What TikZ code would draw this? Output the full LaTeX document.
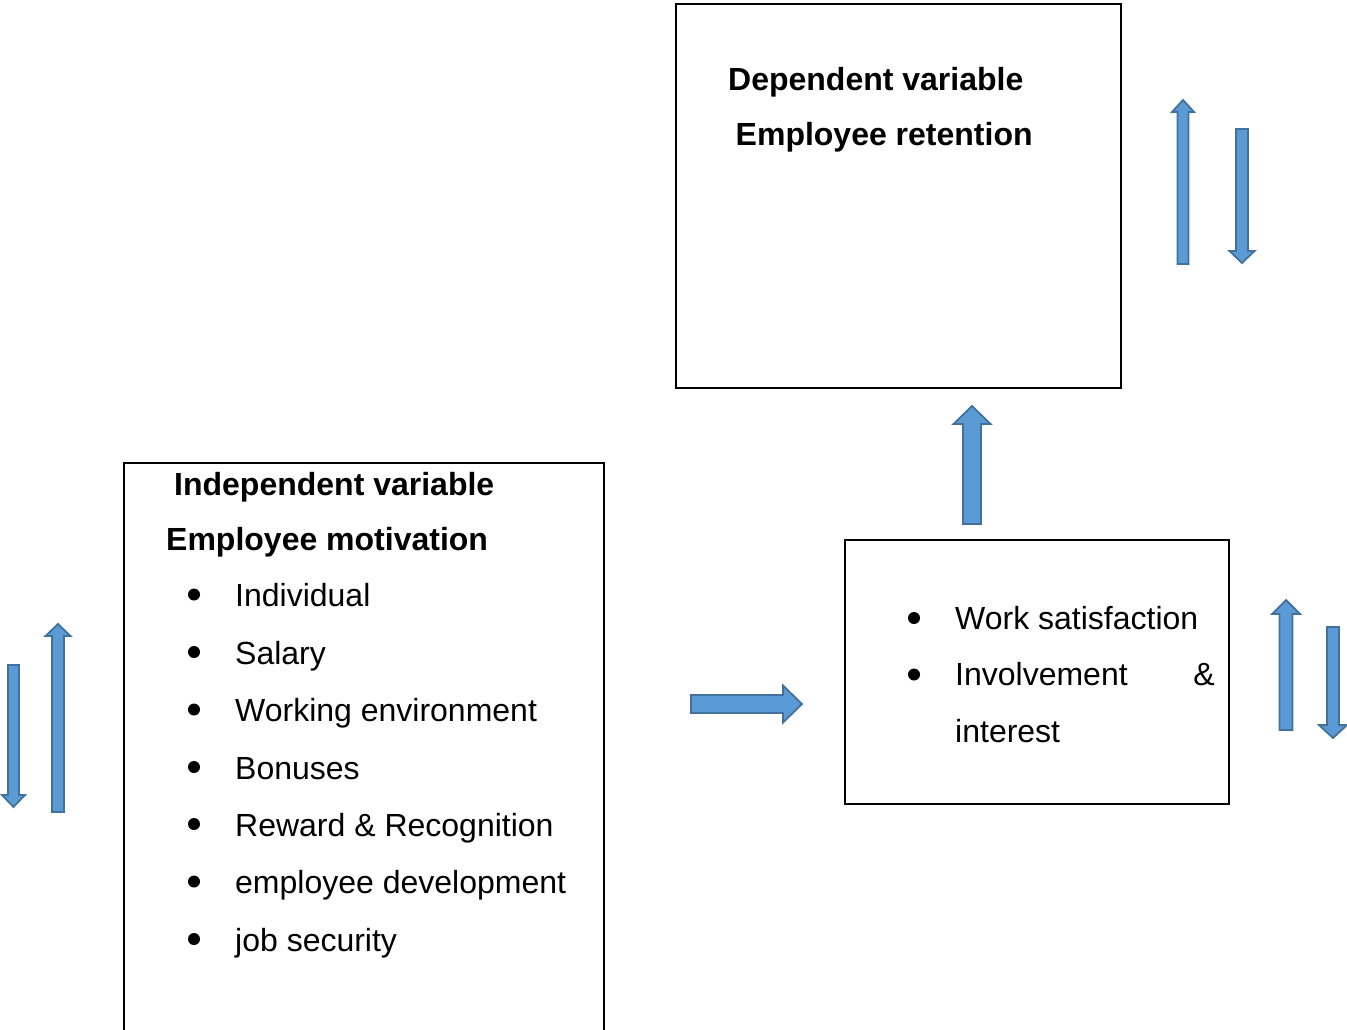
\documentclass[tikz,border=0pt]{standalone}
\usepackage{fontspec}
\setmainfont{Liberation Sans}
\definecolor{arrowfill}{HTML}{5B9BD5}
\definecolor{arrowline}{HTML}{41719C}

% block arrows: centre line, tail, tip, shaft half-width, head half-width, head length
\newcommand{\upblock}[6]{%
  \filldraw[blockarrow] ({#1-#4},#2) -- ({#1-#4},{#3+#6}) -- ({#1-#5},{#3+#6}) -- (#1,#3)
    -- ({#1+#5},{#3+#6}) -- ({#1+#4},{#3+#6}) -- ({#1+#4},#2) -- cycle;}
\newcommand{\downblock}[6]{%
  \filldraw[blockarrow] ({#1-#4},#2) -- ({#1-#4},{#3-#6}) -- ({#1-#5},{#3-#6}) -- (#1,#3)
    -- ({#1+#5},{#3-#6}) -- ({#1+#4},{#3-#6}) -- ({#1+#4},#2) -- cycle;}
\newcommand{\rightblock}[6]{%
  \filldraw[blockarrow] (#2,{#1-#4}) -- ({#3-#6},{#1-#4}) -- ({#3-#6},{#1-#5}) -- (#3,#1)
    -- ({#3-#6},{#1+#5}) -- ({#3-#6},{#1+#4}) -- (#2,{#1+#4}) -- cycle;}

\begin{document}
\begin{tikzpicture}[x=1pt,y=-1pt,
  blockarrow/.style={fill=arrowfill,draw=arrowline,line width=1.8pt,line join=miter},
  panel/.style={draw=black,line width=2pt,inner sep=0pt,outer sep=0pt,anchor=north west},
  hd/.style={font=\fontsize{32}{38}\selectfont\bfseries,anchor=base west,inner sep=0pt},
  item/.style={font=\fontsize{32}{38}\selectfont,anchor=base west,inner sep=0pt},
  dot/.style={fill=black,draw=none}]
\useasboundingbox (0,0) rectangle (1347,1029);

% dependent variable box
\node[panel,minimum width=445pt,minimum height=384pt] (dep) at (676,4) {};
\node[hd] (deptitle) at (728,90) {Dependent variable};
\node[hd] (depname) at (735.5,145) {Employee retention};

% independent variable box (open at the bottom)
\node[panel,draw=none,minimum width=480pt,minimum height=580pt] (ind) at (124,463) {};
\draw[line width=2pt] (ind.south west) -- (ind.north west) -- (ind.north east) -- (ind.south east);
\node[hd] (indtitle) at (174,495) {Independent variable};
\node[hd] (indname) at (166,550) {Employee motivation};
\foreach \t/\y [count=\i] in {Individual/606.5,Salary/664,Working environment/721.5,
    Bonuses/779,Reward \& Recognition/836,employee development/893.5,job security/951}{
  \fill[dot] (194,{\y-12}) circle (6pt);
  \node[item] (ind\i) at (235,\y) {\t};
}

% mediating box
\node[panel,minimum width=384pt,minimum height=264pt] (med) at (845,540) {};
\fill[dot] (914,618) circle (6pt);
\fill[dot] (914,674.5) circle (6pt);
\node[item] (med1) at (955,629) {Work satisfaction};
\node[item] (med2) at (955,685.5) {Involvement};
\node[item,anchor=base east] (medamp) at (1215,685.5) {\&};
\node[item] (med3) at (955,742) {interest};

% block arrows
\rightblock{704}{691}{802}{9}{18.5}{19}
\upblock{972}{524}{406}{9}{18.5}{18}
\upblock{1183}{264}{100}{5.5}{11}{12}
\downblock{1242}{129}{263}{6}{12.5}{12}
\upblock{1286}{730}{600}{6.5}{14}{14}
\downblock{1333}{627}{738}{6}{14}{13}
\downblock{13.5}{665}{807}{5.5}{11.5}{12}
\upblock{58}{812}{624}{6}{12.5}{12}
\end{tikzpicture}
\end{document}
